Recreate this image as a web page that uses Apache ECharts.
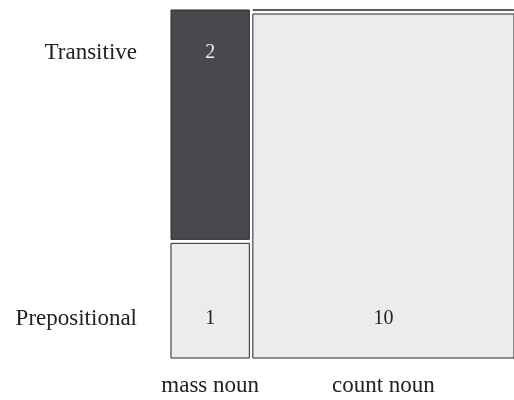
<!DOCTYPE html>
<html>
<head>
<meta charset="utf-8">
<script src="https://cdn.jsdelivr.net/npm/echarts@6/dist/echarts.min.js"></script>
<style>
  html, body { margin: 0; padding: 0; background: #fff; }
  #chart { width: 514px; height: 400px; }
</style>
</head>
<body>
<div id="chart"></div>
<script>
// columns (x) and rows (y) of the mosaic
const columns = ['mass noun', 'count noun'];
const rows = ['Transitive', 'Prepositional'];
// counts per row, one value per column
const transitive = [2, 0];
const prepositional = [1, 10];

const counts = [transitive, prepositional];
const colTotals = columns.map((c, i) => counts.reduce((s, r) => s + r[i], 0));
const grandTotal = colTotals.reduce((s, v) => s + v, 0);

const fontFamily = '"Liberation Serif", "DejaVu Serif", serif';
const darkFill = '#4a484d';
const lightFill = '#ececee';
const edge = '#262626';
const gapX = 3.5;
const gapY = 4;

// one data item per cell: [column, row, count]
const cells = [];
columns.forEach((c, ci) => {
  rows.forEach((r, ri) => {
    cells.push([ci, ri, counts[ri][ci]]);
  });
});

const chart = echarts.init(document.getElementById('chart'));

const renderItem = (params, api) => {
  const ci = api.value(0);
  const ri = api.value(1);
  const n = api.value(2);
  const colStart = colTotals.slice(0, ci).reduce((s, v) => s + v, 0);
  const rowStart = counts.slice(0, ri).reduce((s, r) => s + r[ci], 0) / colTotals[ci];

  // plot area from the axes, shrunk by the gaps between tiles
  const origin = api.coord([0, 0]);
  const corner = api.coord([grandTotal, 1]);
  const usableW = corner[0] - origin[0] - gapX * (columns.length - 1);
  const usableH = corner[1] - origin[1] - gapY * (rows.length - 1);

  const x0 = origin[0] + (colStart / grandTotal) * usableW + ci * gapX;
  const w = (colTotals[ci] / grandTotal) * usableW;
  const y0 = origin[1] + rowStart * usableH + ri * gapY;
  const h = (n / colTotals[ci]) * usableH;

  const children = [{
    type: 'rect',
    shape: { x: x0, y: y0, width: w, height: h },
    style: {
      fill: ri === 0 && n > 0 ? darkFill : lightFill,
      stroke: edge,
      lineWidth: 1
    }
  }];

  // text rows sit near the top / bottom of the plot
  const labelY = api.coord([0, ri === 0 ? 0.122 : 0.888])[1];
  const xMid = x0 + w / 2;

  if (n > 0) {
    children.push({
      type: 'text',
      style: {
        text: String(n),
        x: xMid,
        y: labelY,
        align: 'center',
        verticalAlign: 'middle',
        fill: ri === 0 ? '#eeeeee' : '#222222',
        font: '20px ' + fontFamily
      }
    });
  }

  if (ci === 0) {
    children.push({
      type: 'text',
      style: {
        text: rows[ri],
        x: x0 - 34,
        y: labelY,
        align: 'right',
        verticalAlign: 'middle',
        fill: '#222222',
        font: '23px ' + fontFamily
      }
    });
  }

  if (ri === 0) {
    children.push({
      type: 'text',
      style: {
        text: columns[ci],
        x: xMid,
        y: corner[1] + 28,
        align: 'center',
        verticalAlign: 'middle',
        fill: '#222222',
        font: '23px ' + fontFamily
      }
    });
  }

  return { type: 'group', children: children };
};

chart.setOption({
  animation: false,
  grid: { left: 171, right: -6, top: 10, bottom: 42 },
  xAxis: {
    type: 'value',
    min: 0,
    max: grandTotal,
    show: false
  },
  yAxis: {
    type: 'value',
    min: 0,
    max: 1,
    inverse: true,
    show: false
  },
  series: [{
    type: 'custom',
    renderItem: renderItem,
    clip: false,
    encode: { x: 0, y: 1 },
    data: cells
  }]
});
</script>
</body>
</html>
